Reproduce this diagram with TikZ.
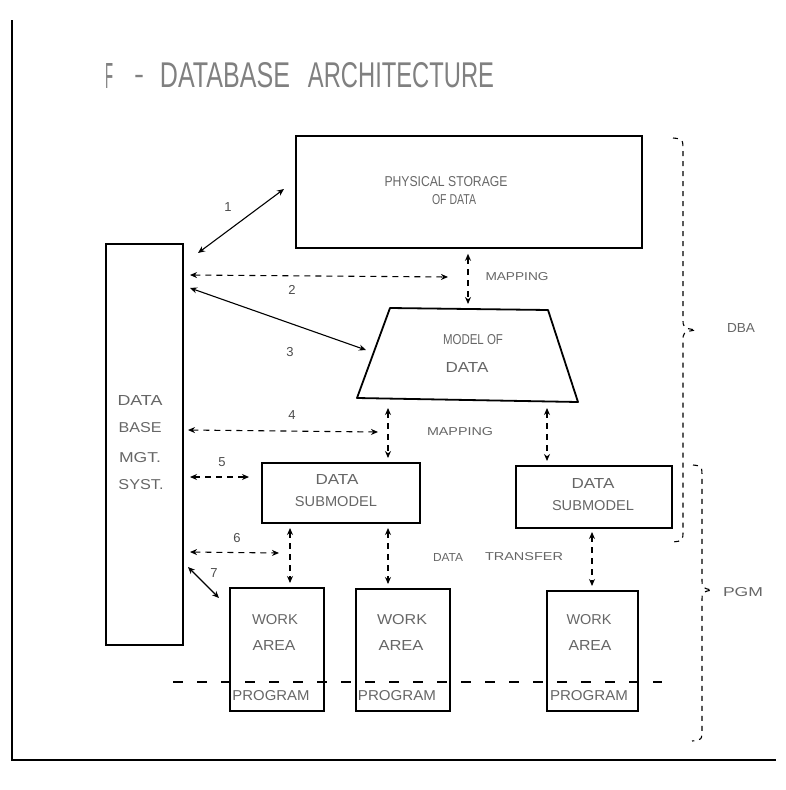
\documentclass[tikz,border=0pt]{standalone}
\usepackage{fontspec}
\setmainfont{Liberation Sans}
\usetikzlibrary{arrows.meta}
\newcommand{\fitbox}[3]{\resizebox{#1pt}{#2pt}{#3}}
\begin{document}
\begin{tikzpicture}[x=1pt,y=-1pt,
  box/.style={draw=black,line width=1.8pt},
  txt/.style={text=black!60,inner sep=0pt},
  num/.style={text=black!70,font=\fontsize{13}{14}\selectfont,inner sep=0pt},
  con/.style={line width=1.1pt},
  dcon/.style={line width=1.1pt,dash pattern=on 6pt off 5pt},
  tip/.style={arrows={Stealth[length=7pt,width=6pt]-Stealth[length=7pt,width=6pt]}},
  brc/.style={line width=1.1pt,dash pattern=on 5pt off 5pt}
]
\useasboundingbox (0,0) rectangle (786,790);
% frame
\draw[line width=1.2pt] (12,20) -- (12,760) -- (776,760);
% title
\node[txt,text=black!50] (tF) at (109,75.5) {\fitbox{8}{25}{F}};
\node[txt,text=black!50,font=\fontsize{30}{30}\selectfont] (tdash) at (139,80) {-};
\node[txt,text=black!50] (tDB) at (225,75.5) {\fitbox{130}{25}{DATABASE}};
\node[txt,text=black!50] (tAR) at (401,75.5) {\fitbox{186}{25}{ARCHITECTURE}};
% physical storage
\node[box,minimum width=346pt,minimum height=112pt,anchor=north west] (phys) at (295,135) {};
\node[txt] (phys1) at (446,182) {\fitbox{123}{10}{PHYSICAL STORAGE}};
\node[txt] (phys2) at (454,200) {\fitbox{44}{10}{OF DATA}};
% model of data
\coordinate (mtl) at (390,308); \coordinate (mtr) at (548,310);
\coordinate (mbr) at (578,402); \coordinate (mbl) at (357,398);
\draw[box,line join=round] (mtl) -- (mtr) -- (mbr) -- (mbl) -- cycle;
\node[txt] (mod1) at (473,340) {\fitbox{60}{10}{MODEL OF}};
\node[txt] (mod2) at (467,367) {\fitbox{43}{10}{DATA}};
% DBMS
\node[box,minimum width=77pt,minimum height=401pt,anchor=north west] (dbms) at (105,243) {};
\node[txt] (db1) at (140,400) {\fitbox{45}{10}{DATA}};
\node[txt] (db2) at (140,428) {\fitbox{43}{10}{BASE}};
\node[txt] (db3) at (140,458) {\fitbox{42}{10}{MGT.}};
\node[txt] (db4) at (141,485) {\fitbox{45}{10}{SYST.}};
% submodels
\node[box,minimum width=158pt,minimum height=60pt,anchor=north west] (sub1) at (261,462) {};
\node[txt] (s1a) at (337,479) {\fitbox{43}{10}{DATA}};
\node[txt] (s1b) at (336,502) {\fitbox{82}{10}{SUBMODEL}};
\node[box,minimum width=156pt,minimum height=62pt,anchor=north west] (sub2) at (515,465) {};
\node[txt] (s2a) at (593,483) {\fitbox{43}{10}{DATA}};
\node[txt] (s2b) at (593,506) {\fitbox{82}{10}{SUBMODEL}};
% work areas
\node[box,minimum width=94pt,minimum height=123pt,anchor=north west] (wa1) at (229,587) {};
\node[box,minimum width=94pt,minimum height=122pt,anchor=north west] (wa2) at (355,588) {};
\node[box,minimum width=91pt,minimum height=120pt,anchor=north west] (wa3) at (546,590) {};
\node[txt] (w1a) at (275,620) {\fitbox{46}{10}{WORK}};
\node[txt] (w1b) at (274,645) {\fitbox{43}{10}{AREA}};
\node[txt] (w2a) at (402,620) {\fitbox{50}{10}{WORK}};
\node[txt] (w2b) at (401,645) {\fitbox{45}{10}{AREA}};
\node[txt] (w3a) at (589,620) {\fitbox{45}{10}{WORK}};
\node[txt] (w3b) at (590,645) {\fitbox{43}{10}{AREA}};
\node[txt] (p1) at (271,696) {\fitbox{77}{10}{PROGRAM}};
\node[txt] (p2) at (397,696) {\fitbox{78}{10}{PROGRAM}};
\node[txt] (p3) at (589,696) {\fitbox{78}{10}{PROGRAM}};
% long dashed line
\coordinate (dl) at (173,682); \coordinate (dr) at (662,682);
\draw[line width=1.1pt,dash pattern=on 10pt off 14pt] (dl) -- (dr);
% connectors from DBMS
\coordinate (a1s) at (198,253); \coordinate (a1e) at (284,189);
\draw[con,tip] (a1s) -- (a1e);
\node[num] (n1) at (228,207) {1};
\coordinate (a2s) at (190,275); \coordinate (a2e) at (448,277);
\draw[dcon,tip] (a2s) -- (a2e);
\node[num] (n2) at (292,290) {2};
\coordinate (a3s) at (190,288); \coordinate (a3e) at (366,350);
\draw[con,tip] (a3s) -- (a3e);
\node[num] (n3) at (290,352) {3};
\coordinate (a4s) at (188,430); \coordinate (a4e) at (378,432);
\draw[dcon,tip] (a4s) -- (a4e);
\node[num] (n4) at (292,415) {4};
\coordinate (a5s) at (190,477); \coordinate (a5e) at (249,477);
\draw[dcon,tip] (a5s) -- (a5e);
\node[num] (n5) at (222,462) {5};
\coordinate (a6s) at (190,552); \coordinate (a6e) at (279,553);
\draw[dcon,tip] (a6s) -- (a6e);
\node[num] (n6) at (237,538) {6};
\coordinate (a7s) at (188,567); \coordinate (a7e) at (219,598);
\draw[con,tip] (a7s) -- (a7e);
\node[num] (n7) at (214,573) {7};
% mapping arrows
\draw[dcon,tip] (phys.south -| mtl) ++(78,5) coordinate (m1a) -- (468,304) coordinate (m1b);
\node[txt] (map1) at (517,277) {\fitbox{63}{8}{MAPPING}};
\coordinate (m2a) at (388,408); \coordinate (m2b) at (388,458);
\draw[dcon,tip] (m2a) -- (m2b);
\coordinate (m3a) at (547,408); \coordinate (m3b) at (547,461);
\draw[dcon,tip] (m3a) -- (m3b);
\node[txt] (map2) at (460,432) {\fitbox{66}{8}{MAPPING}};
% data transfer arrows
\coordinate (t1a) at (290,528); \coordinate (t1b) at (290,583);
\draw[dcon,tip] (t1a) -- (t1b);
\coordinate (t2a) at (388,528); \coordinate (t2b) at (388,584);
\draw[dcon,tip] (t2a) -- (t2b);
\coordinate (t3a) at (592,532); \coordinate (t3b) at (592,586);
\draw[dcon,tip] (t3a) -- (t3b);
\node[txt] (dt1) at (448,557) {\fitbox{30}{8}{DATA}};
\node[txt] (dt2) at (524,557) {\fitbox{78}{8}{TRANSFER}};
% braces
\draw[brc] (673,138) .. controls (683,139) .. (683,152) -- (683,318)
  .. controls (683,328) .. (696,330) .. controls (683,332) .. (683,342)
  -- (683,530) .. controls (683,541) .. (672,542);
\node[txt] (dba) at (741,328) {\fitbox{28}{9}{DBA}};
\draw[brc] (693,465) .. controls (702,466) .. (702,478) -- (702,578)
  .. controls (702,588) .. (712,590) .. controls (702,592) .. (702,602)
  -- (702,728) .. controls (702,740) .. (692,741);
\node[txt] (pgm) at (743,592) {\fitbox{40}{9}{PGM}};
\end{tikzpicture}
\end{document}
